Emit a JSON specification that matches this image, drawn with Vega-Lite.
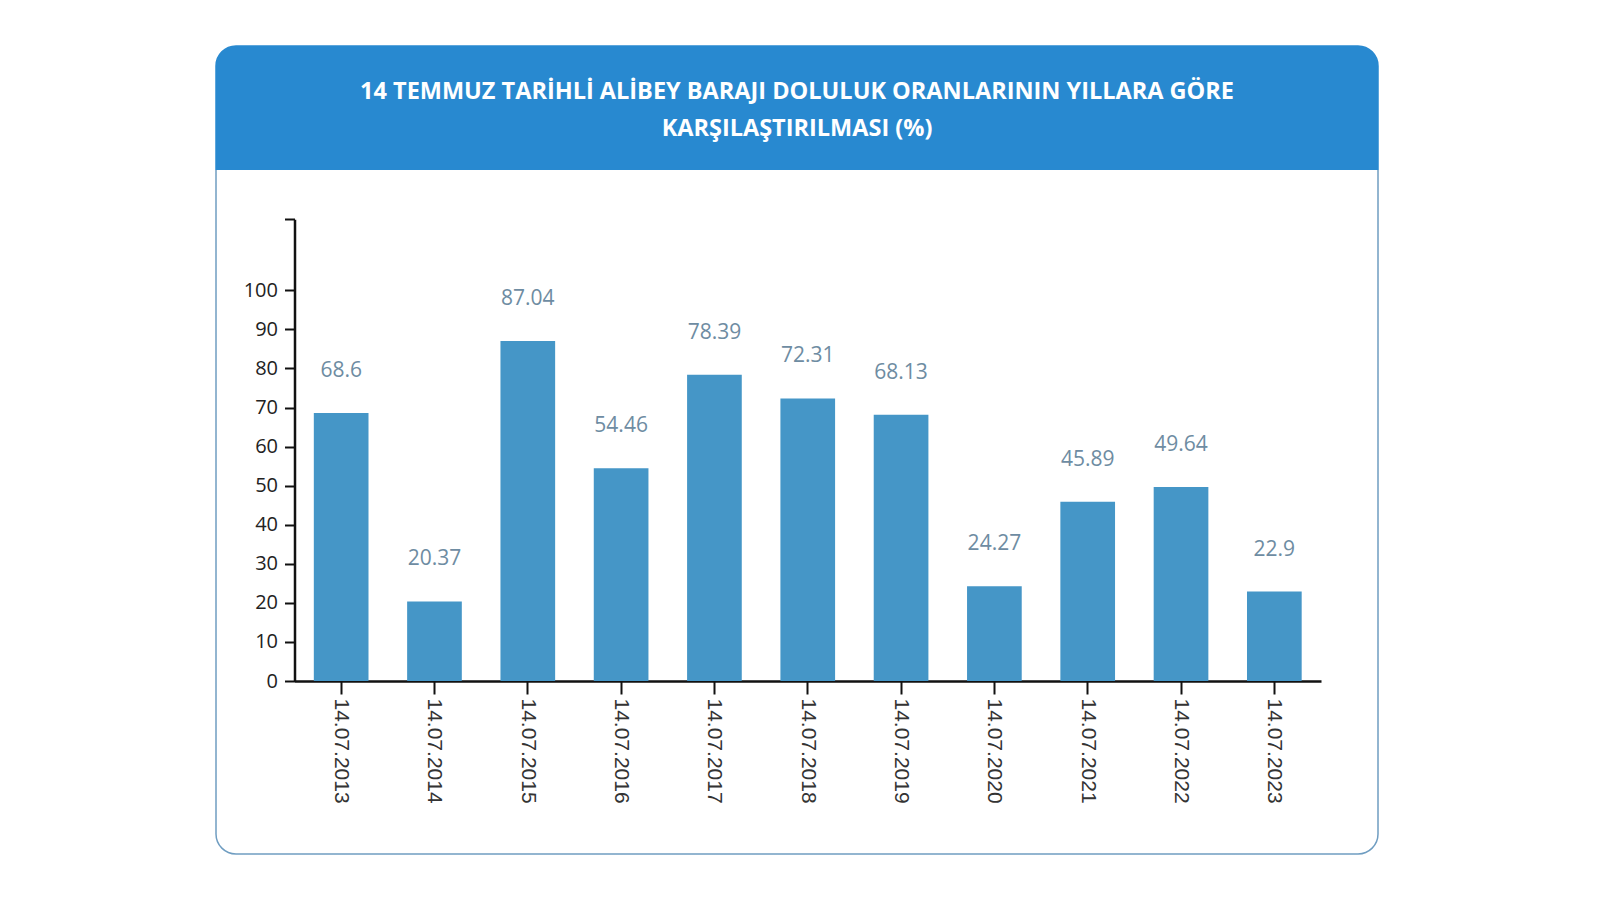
{
  "$schema": "https://vega.github.io/schema/vega-lite/v6.json",
  "background": "#ffffff",
  "padding": {"left": 216, "top": 46, "right": 10, "bottom": 10},
  "width": 1162,
  "height": 808,
  "view": {
    "fill": {"gradient": "linear", "x1": 0, "y1": 0, "x2": 0, "y2": 1, "stops": [
      {"offset": 0, "color": "#2889d0"},
      {"offset": 0.1535, "color": "#2889d0"},
      {"offset": 0.1536, "color": "#ffffff"},
      {"offset": 1, "color": "#ffffff"}
    ]},
    "stroke": {"gradient": "linear", "x1": 0, "y1": 0, "x2": 0, "y2": 1, "stops": [
      {"offset": 0, "color": "#2889d0"},
      {"offset": 0.1535, "color": "#2889d0"},
      {"offset": 0.1536, "color": "#6f9dc1"},
      {"offset": 1, "color": "#6f9dc1"}
    ]},
    "strokeWidth": 1.5,
    "cornerRadius": 20
  },
  "title": {
    "text": ["14 TEMMUZ TARİHLİ ALİBEY BARAJI DOLULUK ORANLARININ YILLARA GÖRE", "KARŞILAŞTIRILMASI (%)"],
    "orient": "top", "anchor": "middle", "frame": "group",
    "offset": -46, "dy": 61, "baseline": "middle", "lineHeight": 37.6,
    "font": "Open Sans", "fontWeight": "bold", "fontSize": 23.5, "color": "#ffffff"
  },
  "data": {"values": [
    {"date": "14.07.2013", "value": 68.6},
    {"date": "14.07.2014", "value": 20.37},
    {"date": "14.07.2015", "value": 87.04},
    {"date": "14.07.2016", "value": 54.46},
    {"date": "14.07.2017", "value": 78.39},
    {"date": "14.07.2018", "value": 72.31},
    {"date": "14.07.2019", "value": 68.13},
    {"date": "14.07.2020", "value": 24.27},
    {"date": "14.07.2021", "value": 45.89},
    {"date": "14.07.2022", "value": 49.64},
    {"date": "14.07.2023", "value": 22.9}
  ]},
  "encoding": {
    "x": {
      "field": "date", "type": "nominal", "sort": null,
      "scale": {"range": [78.5, 1105], "paddingInner": 0.414, "paddingOuter": 0.207},
      "axis": {
        "title": null, "offset": -173, "labelAngle": 90, "tickSize": 13, "tickWidth": 2, "tickColor": "#111111",
        "domainColor": "#111111", "domainWidth": 2.5, "labelPadding": 4,
        "labelFont": "Liberation Sans", "labelFontSize": 21, "labelColor": "#333333", "grid": false
      }
    },
    "y": {
      "field": "value", "type": "quantitative",
      "scale": {"domain": [0, 118.17], "range": [635, 173.3], "nice": false, "zero": true},
      "axis": {
        "title": null, "offset": -78.5, "grid": false,
        "values": [0, 10, 20, 30, 40, 50, 60, 70, 80, 90, 100, 118.17],
        "labelExpr": "datum.value > 100 ? '' : datum.label",
        "tickSize": 10, "tickWidth": 2, "tickColor": "#111111",
        "domainColor": "#111111", "domainWidth": 2.5,
        "labelPadding": 7, "labelFont": "Open Sans", "labelFontSize": 20, "labelColor": "#222222"
      }
    }
  },
  "layer": [
    {"mark": {"type": "bar", "color": "#4596c7"}},
    {
      "mark": {"type": "text", "font": "Open Sans", "fontSize": 21, "color": "#6e8ca2", "baseline": "middle", "align": "center", "dy": -42},
      "encoding": {"text": {"field": "value", "type": "quantitative"}}
    }
  ]
}
